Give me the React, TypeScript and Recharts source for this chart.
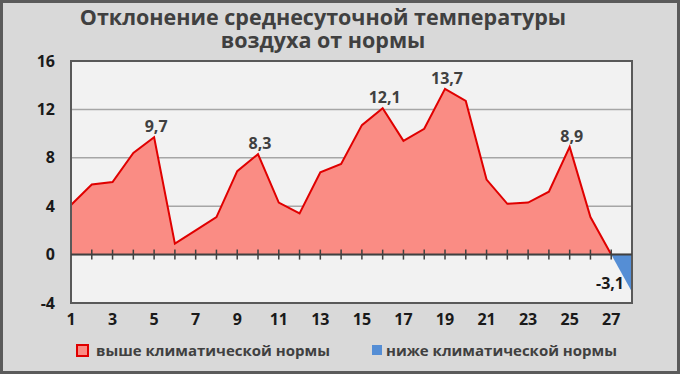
import {
  ComposedChart,
  Area,
  Scatter,
  XAxis,
  YAxis,
  CartesianGrid,
  ReferenceLine,
  ReferenceArea,
  LabelList,
  Legend,
} from "recharts";

// дни месяца
const days = [1, 2, 3, 4, 5, 6, 7, 8, 9, 10, 11, 12, 13, 14, 15, 16, 17, 18, 19, 20, 21, 22, 23, 24, 25, 26, 27, 28];
// выше климатической нормы
const aboveNorm = [4.1, 5.8, 6.0, 8.4, 9.7, 0.9, 2.0, 3.1, 6.9, 8.3, 4.3, 3.4, 6.8, 7.5, 10.7, 12.1, 9.4, 10.4, 13.7, 12.7, 6.2, 4.2, 4.3, 5.2, 8.9, 3.1, 0, null];
// ниже климатической нормы
const belowNorm = [null, null, null, null, null, null, null, null, null, null, null, null, null, null, null, null, null, null, null, null, null, null, null, null, null, null, 0, -3.1];
// подписанные точки
const labeledDays = [5, 10, 16, 19, 25, 28];
const xTicks = [1, 3, 5, 7, 9, 11, 13, 15, 17, 19, 21, 23, 25, 27];
const yTicks = [-4, 0, 4, 8, 12, 16];
const tickMarkDays = [2, 3, 4, 5, 6, 7, 8, 9, 10, 11, 12, 13, 14, 15, 16, 17, 18, 19, 20, 21, 22, 23, 24, 25, 26, 27];
const titleLines = ["Отклонение среднесуточной температуры", "воздуха от нормы"];

const FONT = "'Open Sans', sans-serif";

const data = days.map((day, i) => ({
  day,
  above: aboveNorm[i],
  below: belowNorm[i],
  aboveLabel: labeledDays.includes(day) && aboveNorm[i] != null && aboveNorm[i]! > 0 ? aboveNorm[i] : undefined,
  belowLabel: labeledDays.includes(day) && belowNorm[i] != null && belowNorm[i]! < 0 ? belowNorm[i] : undefined,
}));

const tickRows = tickMarkDays.map((day) => ({ day, zero: 0 }));

const fmt = (v: number) => v.toFixed(1).replace(".", ",");

const PointLabel = (props: any) => {
  const { value } = props;
  if (value == null) return null;
  const x = props.viewBox?.x ?? props.x;
  const y = props.viewBox?.y ?? props.y;
  const neg = value < 0;
  return (
    <text
      x={neg ? x - 8 : x + 2}
      y={neg ? y - 3 : y - 5}
      textAnchor={neg ? "end" : "middle"}
      fontFamily={FONT}
      fontWeight={700}
      fontSize={16}
      fill={neg ? "#1a1a1a" : "#404040"}
    >
      {fmt(value)}
    </text>
  );
};

const TickMark = (props: any) => {
  const { cx, cy } = props;
  return <line x1={cx} x2={cx} y1={cy - 5} y2={cy + 5} stroke="#404040" strokeWidth={1.5} />;
};

const LegendContent = () => (
  <div style={{ position: "relative", width: 680, height: 30, fontFamily: FONT, fontWeight: 700, fontSize: 15, color: "#404040" }}>
    <span style={{ position: "absolute", left: 76, top: 6, width: 9, height: 9, background: "#fa8c84", border: "2px solid #e00000" }} />
    <span style={{ position: "absolute", left: 96, top: 0, lineHeight: "24px" }}>выше климатической нормы</span>
    <span style={{ position: "absolute", left: 372, top: 7, width: 10, height: 10, background: "#558ed5" }} />
    <span style={{ position: "absolute", left: 386, top: 0, lineHeight: "24px" }}>ниже климатической нормы</span>
  </div>
);

export default function App() {
  return (
    <div style={{ position: "absolute", left: 0, top: 0, width: 680, height: 374, background: "#d9d9d9", fontFamily: FONT }}>
      {titleLines.map((line, i) => (
        <div
          key={line}
          style={{
            position: "absolute",
            left: 0,
            top: 5 + i * 23,
            width: 646,
            height: 23,
            textAlign: "center",
            fontSize: 21.5,
            fontWeight: 700,
            lineHeight: "23px",
            color: "#404040",
            whiteSpace: "nowrap",
          }}
        >
          {line}
        </div>
      ))}
      <div style={{ position: "absolute", left: 0, top: 0 }}>
        <ComposedChart width={680} height={374} data={data} margin={{ top: 61, right: 48, bottom: 41, left: 11 }}>
          <CartesianGrid vertical={false} stroke="#a6a6a6" strokeWidth={1.5} fill="#f2f2f2" />
          <XAxis
            dataKey="day"
            type="number"
            domain={[1, 28]}
            ticks={xTicks}
            height={30}
            tickSize={0}
            tickMargin={11}
            axisLine={false}
            tick={{ fontFamily: FONT, fontWeight: 700, fontSize: 16, fill: "#1a1a1a" }}
          />
          <YAxis
            type="number"
            domain={[-4, 16]}
            ticks={yTicks}
            width={60}
            tickSize={0}
            tickMargin={16}
            axisLine={false}
            tick={{ fontFamily: FONT, fontWeight: 700, fontSize: 16, fill: "#1a1a1a" }}
          />
          <Area
            type="linear"
            dataKey="above"
            stroke="#e00000"
            strokeWidth={2}
            fill="#fa8c84"
            fillOpacity={1}
            isAnimationActive={false}
            dot={false}
            activeDot={false}
          >
            <LabelList dataKey="aboveLabel" content={PointLabel} />
          </Area>
          <Area
            type="linear"
            dataKey="below"
            stroke="none"
            fill="#558ed5"
            fillOpacity={1}
            isAnimationActive={false}
            dot={false}
            activeDot={false}
          >
            <LabelList dataKey="belowLabel" content={PointLabel} />
          </Area>
          <ReferenceLine y={0} stroke="#404040" strokeWidth={2} />
          <Scatter data={tickRows} dataKey="zero" shape={TickMark} isAnimationActive={false} />
          <ReferenceArea x1={1} x2={28} y1={-4} y2={16} fill="none" stroke="#595959" strokeWidth={2} />
          <Legend
            layout="horizontal"
            verticalAlign="middle"
            align="center"
            content={LegendContent}
            wrapperStyle={{ position: "absolute", left: 0, top: 338, width: 680, height: 30 }}
          />
        </ComposedChart>
      </div>
      <div
        style={{
          position: "absolute",
          left: 0,
          top: 0,
          width: 680,
          height: 374,
          boxSizing: "border-box",
          border: "3px solid #5b5b5b",
          pointerEvents: "none",
        }}
      />
    </div>
  );
}
